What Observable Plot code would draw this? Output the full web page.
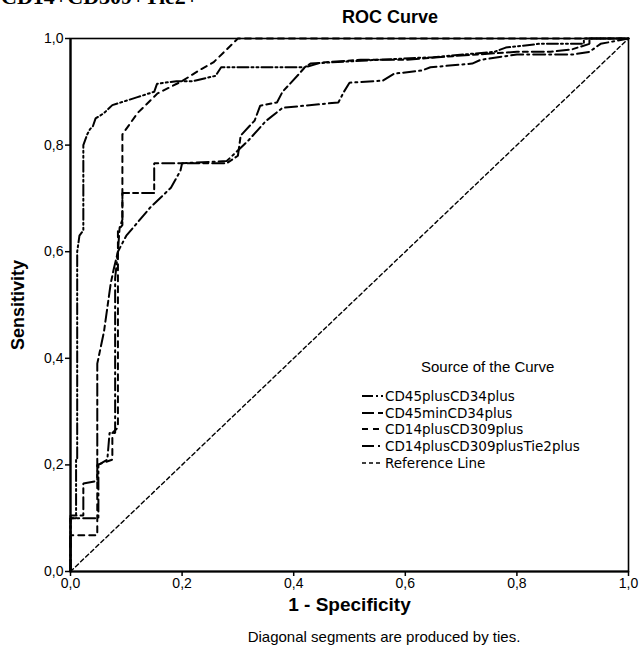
<!DOCTYPE html>
<html><head><meta charset="utf-8">
<script src="https://cdn.jsdelivr.net/npm/d3@7"></script>
<script src="https://cdn.jsdelivr.net/npm/@observablehq/plot@0.6"></script>
<style>
body{margin:0;background:#fff;}
#wrap{position:relative;width:640px;height:651px;overflow:hidden;font-family:"Liberation Sans",Arial,sans-serif;color:#000;}
#chart{position:absolute;left:0;top:0;}
#frag{position:absolute;left:1px;top:-16px;font:bold 22px "Liberation Serif",serif;white-space:nowrap;}
#title{position:absolute;left:290px;width:200px;top:7px;text-align:center;font:bold 18px "Liberation Sans",Arial,sans-serif;}
#caption{position:absolute;left:184px;width:400px;top:628px;text-align:center;font:15px "Liberation Sans",Arial,sans-serif;}
#legend{position:absolute;left:362px;top:358px;}
#legend .lt{font:15px "Liberation Sans",Arial,sans-serif;margin-left:59px;margin-bottom:13px;white-space:nowrap;}
#legend .row{display:flex;align-items:center;height:16.6px;font:13.5px "DejaVu Sans",sans-serif;white-space:nowrap;}
#legend svg{margin-right:2px;}
</style></head><body>
<div id="wrap">
  <div id="chart"></div>
  <div id="frag">CD14+CD309+Tie2+</div>
  <div id="title">ROC Curve</div>
  <div id="legend"></div>
  <div id="caption">Diagonal segments are produced by ties.</div>
</div>
<script>
// ---- data ----
const seriesNames = ["CD45plusCD34plus", "CD45minCD34plus", "CD14plusCD309plus", "CD14plusCD309plusTie2plus", "Reference Line"];
const seriesDash = ["11,3,2,3,2,3", "12,4,5,4", "6,5", "12,4,2,4", "4,3"];

const fpr1 = [0, 0, 0.01, 0.01, 0.012, 0.012, 0.016, 0.023, 0.023, 0.03, 0.035, 0.04, 0.045, 0.06, 0.075, 0.12, 0.15, 0.155, 0.19, 0.22, 0.26, 0.27, 0.42, 0.43, 0.55, 0.65, 0.76, 0.78, 0.84, 0.92, 0.92, 1];
const tpr1 = [0, 0.1, 0.1, 0.21, 0.21, 0.6, 0.63, 0.64, 0.8, 0.82, 0.83, 0.835, 0.85, 0.86, 0.875, 0.89, 0.9, 0.915, 0.92, 0.92, 0.93, 0.946, 0.946, 0.953, 0.96, 0.965, 0.975, 0.983, 0.99, 0.99, 1, 1];

const fpr2 = [0, 0, 0.023, 0.023, 0.048, 0.048, 0.06, 0.072, 0.077, 0.085, 0.088, 0.093, 0.093, 0.15, 0.15, 0.28, 0.3, 0.305, 0.33, 0.34, 0.37, 0.38, 0.41, 0.42, 0.45, 0.52, 0.6, 0.7, 0.8, 0.86, 0.9, 0.93, 0.93, 1];
const tpr2 = [0, 0.105, 0.105, 0.165, 0.17, 0.39, 0.45, 0.54, 0.565, 0.6, 0.645, 0.66, 0.71, 0.71, 0.766, 0.766, 0.78, 0.818, 0.846, 0.874, 0.88, 0.9, 0.934, 0.946, 0.955, 0.96, 0.96, 0.968, 0.975, 0.975, 0.98, 0.99, 1, 1];

const fpr3 = [0, 0, 0.048, 0.048, 0.075, 0.075, 0.085, 0.085, 0.093, 0.093, 0.12, 0.156, 0.2, 0.23, 0.256, 0.3, 1];
const tpr3 = [0, 0.068, 0.068, 0.2, 0.21, 0.26, 0.27, 0.64, 0.65, 0.82, 0.86, 0.897, 0.92, 0.94, 0.955, 1, 1];

const fpr4 = [0, 0, 0.05, 0.05, 0.066, 0.07, 0.08, 0.08, 0.085, 0.1, 0.143, 0.18, 0.197, 0.2, 0.28, 0.3, 0.32, 0.35, 0.38, 0.48, 0.49, 0.5, 0.56, 0.58, 0.63, 0.645, 0.72, 0.735, 0.8, 0.9, 0.93, 0.95, 1];
const tpr4 = [0, 0.1, 0.1, 0.2, 0.21, 0.26, 0.26, 0.55, 0.6, 0.63, 0.683, 0.72, 0.752, 0.766, 0.77, 0.79, 0.81, 0.845, 0.87, 0.88, 0.9, 0.917, 0.921, 0.934, 0.94, 0.946, 0.953, 0.96, 0.97, 0.97, 0.975, 0.99, 1];

const fprRef = [0, 1];
const tprRef = [0, 1];

const tickValues = [0, 0.2, 0.4, 0.6, 0.8, 1];
const tickLabels = ["0,0", "0,2", "0,4", "0,6", "0,8", "1,0"];

// ---- build ----
const toRows = (xs, ys) => xs.map((x, i) => ({x, y: ys[i]}));
const curves = [[fpr1, tpr1], [fpr2, tpr2], [fpr3, tpr3], [fpr4, tpr4]];
const tickFmt = d => tickLabels[tickValues.indexOf(d)];

const lineMarks = curves.map(([xs, ys], i) =>
  Plot.line(toRows(xs, ys), {x: "x", y: "y", stroke: "#000", strokeWidth: 2, strokeDasharray: seriesDash[i], strokeLinejoin: "miter"})
);

const chart = Plot.plot({
  width: 640, height: 651,
  marginTop: 38, marginRight: 12, marginBottom: 80, marginLeft: 70,
  x: {domain: [0, 1]},
  y: {domain: [0, 1]},
  style: {fontFamily: "Liberation Sans, Arial, sans-serif", fontSize: "14px", color: "#000", background: "#fff"},
  marks: [
    Plot.axisX({ticks: tickValues, tickFormat: tickFmt, tickSize: 5, tickPadding: 2, label: null, stroke: "#000", strokeWidth: 1.5}),
    Plot.axisY({ticks: tickValues, tickFormat: tickFmt, tickSize: 5, tickPadding: 2, label: null, stroke: "#000", strokeWidth: 1.5}),
    Plot.line(toRows(fprRef, tprRef), {x: "x", y: "y", stroke: "#000", strokeWidth: 1.4, strokeDasharray: seriesDash[4]}),
    ...lineMarks,
    Plot.frame({stroke: "#000", strokeWidth: 1.6}),
    Plot.ruleX([0], {stroke: "#000", strokeWidth: 2.2}),
    Plot.ruleY([0], {stroke: "#000", strokeWidth: 2.2}),
    Plot.text(["Sensitivity"], {frameAnchor: "left", textAnchor: "middle", dx: -52, rotate: -90, fontWeight: "bold", fontSize: 18}),
    Plot.text(["1 - Specificity"], {frameAnchor: "bottom", dy: 39, fontWeight: "bold", fontSize: 19})
  ]
});
document.getElementById("chart").appendChild(chart);

// legend
const leg = document.getElementById("legend");
const lt = document.createElement("div");
lt.className = "lt"; lt.textContent = "Source of the Curve";
leg.appendChild(lt);
seriesNames.forEach((name, i) => {
  const row = document.createElement("div");
  row.className = "row";
  const ns = "http://www.w3.org/2000/svg";
  const svg = document.createElementNS(ns, "svg");
  svg.setAttribute("width", 21); svg.setAttribute("height", 8);
  const ln = document.createElementNS(ns, "line");
  ln.setAttribute("x1", 0); ln.setAttribute("x2", 21); ln.setAttribute("y1", 4); ln.setAttribute("y2", 4);
  ln.setAttribute("stroke", "#000"); ln.setAttribute("stroke-width", i === 4 ? 1.4 : 2);
  ln.setAttribute("stroke-dasharray", seriesDash[i]);
  svg.appendChild(ln);
  row.appendChild(svg);
  const t = document.createElement("span"); t.textContent = name;
  row.appendChild(t);
  leg.appendChild(row);
});
</script>
</body></html>
